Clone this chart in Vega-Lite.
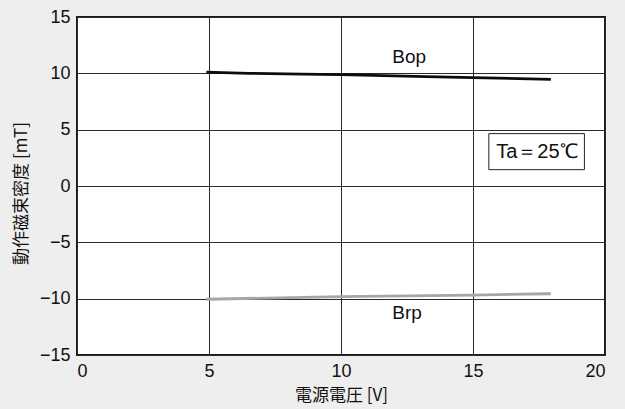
{
  "$schema": "https://vega.github.io/schema/vega-lite/v6.json",
  "width": 528,
  "height": 338,
  "autosize": {"type": "none"},
  "padding": {"left": 77, "top": 17, "right": 20, "bottom": 54},
  "background": "#eeeeee",
  "config": {
    "view": {"fill": "white", "stroke": "#1a1a1a", "strokeWidth": 2},
    "font": "Liberation Sans",
    "axis": {
      "grid": true,
      "gridColor": "#2a2a2a",
      "gridWidth": 1,
      "gridOpacity": 1,
      "domain": false,
      "ticks": false,
      "labelFont": "Liberation Sans",
      "labelFontSize": 18,
      "labelColor": "#111",
      "titleFont": "Noto Sans CJK JP",
      "titleFontSize": 17,
      "titleFontWeight": "normal",
      "titleColor": "#111"
    }
  },
  "datasets": {
    "lines": [
      {"V": 4.9, "B": 10.1, "series": "Bop"},
      {"V": 6.5, "B": 10.0, "series": "Bop"},
      {"V": 10, "B": 9.88, "series": "Bop"},
      {"V": 15, "B": 9.62, "series": "Bop"},
      {"V": 17.95, "B": 9.47, "series": "Bop"},
      {"V": 4.9, "B": -10.05, "series": "Brp"},
      {"V": 10, "B": -9.82, "series": "Brp"},
      {"V": 15, "B": -9.68, "series": "Brp"},
      {"V": 17.95, "B": -9.56, "series": "Brp"}
    ],
    "labels": [
      {"V": 12.58, "B": 11.45, "text": "Bop"},
      {"V": 12.5, "B": -11.25, "text": "Brp"}
    ],
    "box": [
      {"x1": 15.6, "x2": 19.22, "y1": 4.65, "y2": 1.45, "xc": 17.42, "yc": 3.05, "text": "Ta＝25℃"}
    ]
  },
  "layer": [
    {
      "data": {"name": "lines"},
      "mark": {"type": "line", "strokeWidth": 2.8, "interpolate": "monotone"},
      "encoding": {
        "x": {
          "field": "V", "type": "quantitative",
          "scale": {"domain": [0, 20], "nice": false},
          "axis": {"values": [0, 5, 10, 15, 20], "title": "電源電圧 [V]", "labelPadding": 7, "titlePadding": 7}
        },
        "y": {
          "field": "B", "type": "quantitative",
          "scale": {"domain": [-15, 15], "nice": false},
          "axis": {"values": [-15, -10, -5, 0, 5, 10, 15], "title": "動作磁束密度 [mT]", "labelPadding": 7, "titlePadding": 9, "titleY": 176}
        },
        "color": {
          "field": "series", "type": "nominal",
          "scale": {"domain": ["Bop", "Brp"], "range": ["#0d0d0d", "#a6a6a6"]},
          "legend": null
        },
        "detail": {"field": "series"}
      }
    },
    {
      "data": {"name": "labels"},
      "mark": {"type": "text", "fontSize": 19, "font": "Liberation Sans", "color": "#111"},
      "encoding": {
        "x": {"field": "V", "type": "quantitative"},
        "y": {"field": "B", "type": "quantitative"},
        "text": {"field": "text"}
      }
    },
    {
      "data": {"name": "box"},
      "mark": {"type": "rect", "fill": "white", "stroke": "#222", "strokeWidth": 1},
      "encoding": {
        "x": {"field": "x1", "type": "quantitative"},
        "x2": {"field": "x2"},
        "y": {"field": "y1", "type": "quantitative"},
        "y2": {"field": "y2"}
      }
    },
    {
      "data": {"name": "box"},
      "mark": {"type": "text", "fontSize": 20, "font": "Liberation Sans", "color": "#111"},
      "encoding": {
        "x": {"field": "xc", "type": "quantitative"},
        "y": {"field": "yc", "type": "quantitative"},
        "text": {"field": "text"}
      }
    }
  ]
}
